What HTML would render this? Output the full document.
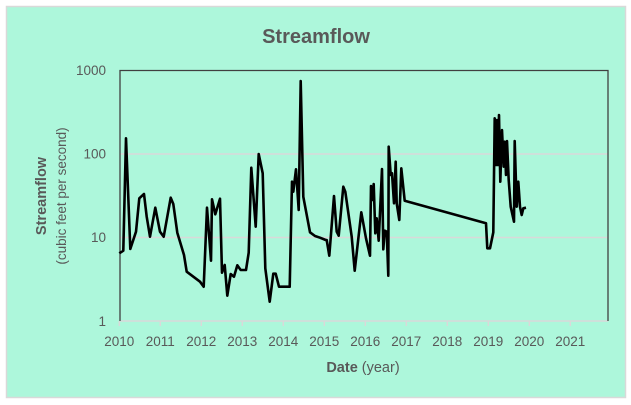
<!DOCTYPE html>
<html><head><meta charset="utf-8"><style>
html,body{margin:0;padding:0;background:#fff;}
svg{display:block;font-family:"Liberation Sans",sans-serif;}
</style></head><body>
<svg width="631" height="405" viewBox="0 0 631 405" xmlns="http://www.w3.org/2000/svg">
<rect x="6.5" y="6.5" width="619" height="391" fill="#adf7db" stroke="#d9d9d9" stroke-width="1.5"/>
<text x="316" y="43" text-anchor="middle" font-size="20" font-weight="bold" fill="#595959">Streamflow</text>
<line x1="120" y1="154" x2="608" y2="154" stroke="#d9d9d9" stroke-width="1.5"/>
<line x1="120" y1="237.5" x2="608" y2="237.5" stroke="#d9d9d9" stroke-width="1.5"/>
<line x1="120" y1="321" x2="608" y2="321" stroke="#d9d9d9" stroke-width="1.5"/>
<g stroke="#d9d9d9" stroke-width="1.5">
<line x1="119.3" y1="321" x2="119.3" y2="326"/><line x1="160.3" y1="321" x2="160.3" y2="326"/><line x1="201.3" y1="321" x2="201.3" y2="326"/><line x1="242.3" y1="321" x2="242.3" y2="326"/><line x1="283.3" y1="321" x2="283.3" y2="326"/><line x1="324.3" y1="321" x2="324.3" y2="326"/><line x1="365.3" y1="321" x2="365.3" y2="326"/><line x1="406.3" y1="321" x2="406.3" y2="326"/><line x1="447.3" y1="321" x2="447.3" y2="326"/><line x1="488.3" y1="321" x2="488.3" y2="326"/><line x1="529.3" y1="321" x2="529.3" y2="326"/><line x1="570.3" y1="321" x2="570.3" y2="326"/>
</g>
<polyline points="120,321 120,70.5 608,70.5 608,321" fill="none" stroke="#404040" stroke-width="1.3"/>
<g font-size="13.5" fill="#595959" text-anchor="end">
<text x="106" y="75">1000</text><text x="106" y="158.5">100</text><text x="106" y="242">10</text><text x="106" y="326">1</text>
</g>
<g font-size="13.5" fill="#595959" text-anchor="middle">
<text x="119.3" y="346">2010</text><text x="160.3" y="346">2011</text><text x="201.3" y="346">2012</text><text x="242.3" y="346">2013</text><text x="283.3" y="346">2014</text><text x="324.3" y="346">2015</text><text x="365.3" y="346">2016</text><text x="406.3" y="346">2017</text><text x="447.3" y="346">2018</text><text x="488.3" y="346">2019</text><text x="529.3" y="346">2020</text><text x="570.3" y="346">2021</text>
</g>
<text x="363" y="372" text-anchor="middle" font-size="14.5" fill="#595959"><tspan font-weight="bold">Date</tspan> (year)</text>
<text transform="translate(46,196) rotate(-90)" text-anchor="middle" font-size="14.5" font-weight="bold" fill="#595959">Streamflow</text>
<text transform="translate(66,196) rotate(-90)" text-anchor="middle" font-size="13.5" fill="#595959">(cubic feet per second)</text>
<polyline fill="none" stroke="#000" stroke-width="2.6" stroke-linejoin="round" points="119.3,253.3 123.3,250.7 126,138.3 130.3,249 136,231.7 139.3,198.3 144,194 146.7,216.7 150,236.7 155.3,207.7 160,231.7 163.7,236.7 170.7,197.7 173.3,204 177.3,232.7 184,255 186.7,271.7 200,281.7 203.7,286.7 207,207.7 211,260.7 212,199.3 215.3,214.3 220,198.7 222,272.7 224.7,265 227.3,295.7 230.7,274 234,276.7 237.3,265.3 240.7,270 246,270 248.7,252.7 251.3,167.7 255.7,226.7 258.7,154 262.7,173.3 265.3,268.3 269.7,301.7 273.3,273.7 275.7,273.7 279,286.7 289.7,286.7 292,181.7 293.3,191.7 296,169.3 298.7,210 300.7,81 303.3,196.7 310,232.3 315,236 320,237.7 325.7,240 326.7,240 329.3,255.7 334,196 336.7,231.7 338.7,235.7 343.3,186.7 345.3,191.7 351.7,236.7 354.7,270.7 361.3,212.3 366,238.3 370,255.7 371,186 372.3,200 373.7,184 375.3,233.3 376.7,218.3 378.7,240.7 382,169 383.3,249.3 384.7,230.7 386.7,231.7 388.3,275.7 388.7,146.7 390.7,175 392,173.3 394,203.3 395.7,161.7 396.7,203.3 399.3,220 401.3,168.3 404.7,200.7 486,223.3 487.3,248.3 490,248.3 493.3,232.3 494.7,118.3 496.3,165 497,120 498,165 499,115 500.3,181.7 502,130 503.7,166.7 504.7,141.7 506,175 507,141 508.7,180 510.7,206.7 514,221.7 514.7,141 516.7,206.7 518.3,181.7 520,206.7 521.7,215 523.3,208.3 526,207.7"/>
</svg>
</body></html>
